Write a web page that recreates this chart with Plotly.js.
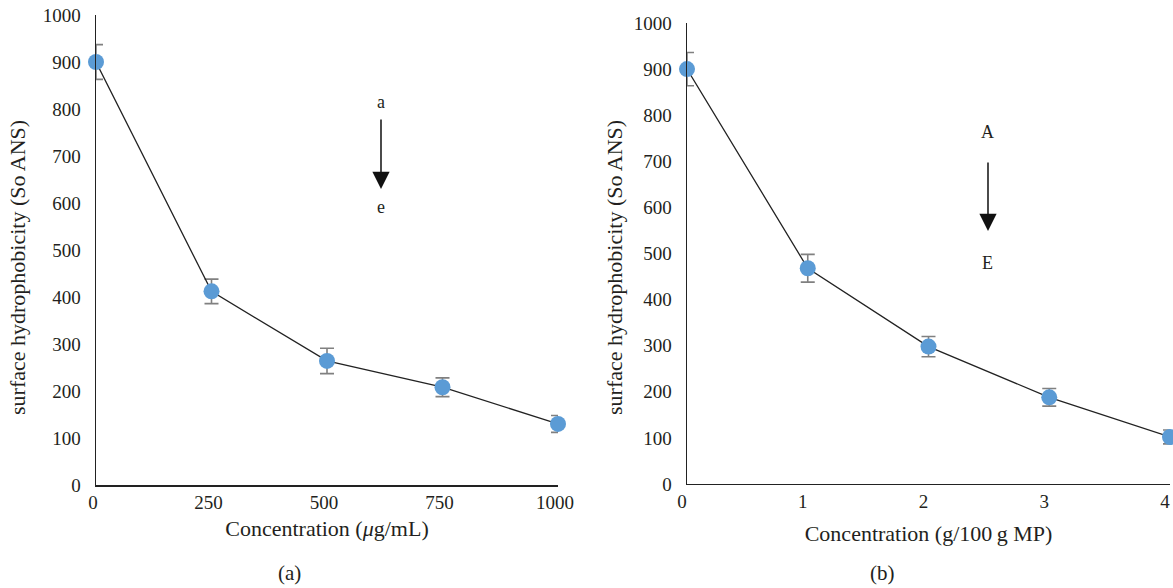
<!DOCTYPE html>
<html>
<head>
<meta charset="utf-8">
<script src="https://cdn.plot.ly/plotly-3.0.1.min.js"></script>
<style>html,body{margin:0;padding:0;background:#fff;}#chart{width:1173px;height:588px;}</style>
</head>
<body>
<div id="chart"></div>
<script>
// Panel (a)
const concA = [0, 250, 500, 750, 1000];
const hydroA = [900, 412, 264, 208, 130];
const errA = [37, 26, 27, 20, 18];
const ticksA = [0, 250, 500, 750, 1000];

// Panel (b)
const concB = [0, 1, 2, 3, 4];
const hydroB = [900, 468, 298, 188, 102];
const errB = [36, 30, 22, 19, 15];
const ticksB = [0, 1, 2, 3, 4];

const yTicks = [0, 100, 200, 300, 400, 500, 600, 700, 800, 900, 1000];
const yTitle = 'surface hydrophobicity (So ANS)';

const FONT = 'Liberation Serif';
const TXT = '#231f20';
const markerBlue = '#5B9BD5';

function trace(x, y, e, xa, ya) {
  return {
    x: x, y: y, xaxis: xa, yaxis: ya,
    type: 'scatter', mode: 'lines+markers',
    line: {color: '#222222', width: 1.3},
    marker: {color: markerBlue, size: 16},
    error_y: {type: 'data', array: e, visible: true, color: '#808080', thickness: 1.6, width: 7},
    cliponaxis: false,
    showlegend: false, hoverinfo: 'x+y'
  };
}

const axisBase = {
  showgrid: false, zeroline: false, showline: true,
  linecolor: '#222222', linewidth: 1.5,
  ticks: '', tickfont: {family: FONT, size: 19, color: TXT},
  fixedrange: true
};

function label(x, y, text, size, angle) {
  return {xref: 'paper', yref: 'paper', x: x, y: y, text: text, showarrow: false,
          textangle: angle || 0,
          xanchor: 'center', yanchor: 'middle', font: {family: FONT, size: size, color: TXT}};
}

const layout = {
  width: 1173, height: 588,
  margin: {l: 96, r: 3, t: 15, b: 103},
  paper_bgcolor: '#ffffff', plot_bgcolor: 'rgba(0,0,0,0)',
  font: {family: FONT, color: TXT},
  showlegend: false,
  xaxis: Object.assign({}, axisBase, {
    domain: [0, 0.43017], range: [0, 1000],
    tickmode: 'array', tickvals: ticksA, ticktext: ticksA.map(String),
    ticklabelstandoff: 0, ticklabelshift: -3,
    title: {text: 'Concentration (<i>μ</i>g/mL)', font: {family: FONT, size: 22, color: TXT}, standoff: 8},
    anchor: 'y'
  }),
  yaxis: Object.assign({}, axisBase, {
    domain: [0, 1], range: [0, 1000],
    tickmode: 'array', tickvals: yTicks, ticktext: yTicks.map(String),
    ticklabelstandoff: 10,
    anchor: 'x'
  }),
  xaxis2: Object.assign({}, axisBase, {
    domain: [0.55028, 1], range: [0, 4],
    tickmode: 'array', tickvals: ticksB, ticktext: ticksB.map(String),
    ticklabelstandoff: 0, ticklabelshift: -5, ticklabeloverflow: 'allow',
    title: {text: 'Concentration (g/100\u2009g MP)', font: {family: FONT, size: 22, color: TXT}, standoff: 14},
    anchor: 'y2'
  }),
  yaxis2: Object.assign({}, axisBase, {
    domain: [0.00213, 0.98298], range: [0, 1000],
    tickmode: 'array', tickvals: yTicks, ticktext: yTicks.map(String),
    ticklabelstandoff: 10,
    anchor: 'x2'
  }),
  annotations: [
    label(-0.07263, 0.46383, yTitle, 22, -90),
    label(0.48324, 0.46383, yTitle, 22, -90),
    {xref: 'paper', yref: 'paper', x: 0.26536, y: 0.62979, text: '', showarrow: true, ax: 0, ay: -71,
     arrowhead: 2, arrowsize: 2.3, arrowwidth: 1.5, arrowcolor: '#111111'},
    label(0.26536, 0.81489, 'a', 18),
    label(0.26536, 0.59149, 'e', 18),
    {xref: 'paper', yref: 'paper', x: 0.83054, y: 0.54043, text: '', showarrow: true, ax: 0, ay: -70,
     arrowhead: 2, arrowsize: 2.3, arrowwidth: 1.5, arrowcolor: '#111111'},
    label(0.83054, 0.75106, 'A', 18),
    label(0.83054, 0.47234, 'E', 18),
    label(0.18063, -0.18723, '(a)', 21),
    label(0.73277, -0.18723, '(b)', 21)
  ]
};

const data = [
  trace(concA, hydroA, errA, 'x', 'y'),
  trace(concB, hydroB, errB, 'x2', 'y2')
];

Plotly.newPlot('chart', data, layout, {displayModeBar: false, staticPlot: true});
</script>
</body>
</html>
